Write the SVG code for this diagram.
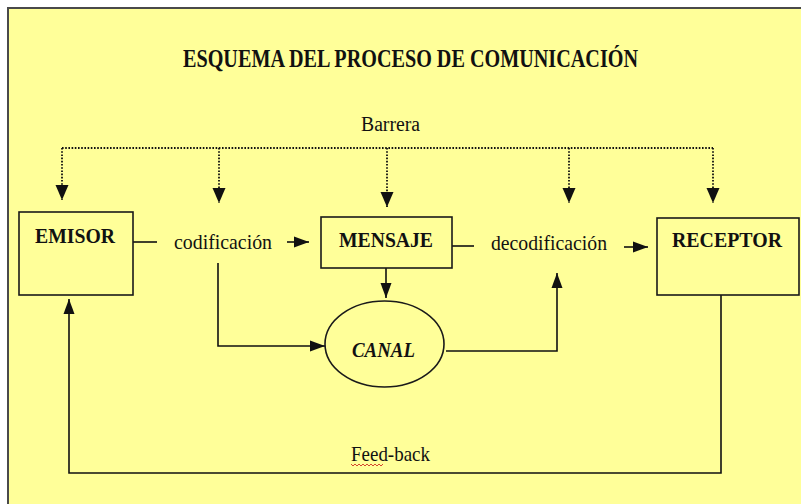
<svg xmlns="http://www.w3.org/2000/svg" width="801" height="504" viewBox="0 0 801 504">
<defs>
<style>
.bg{fill:#FFFF99;stroke:#4a4a4a;stroke-width:2}
.box{fill:none;stroke:#1a1a1a;stroke-width:1.6}
.ln{fill:none;stroke:#111;stroke-width:1.6}
.dot{fill:none;stroke:#111;stroke-width:1.8;stroke-dasharray:1.6 1.6}
.t{font-family:"Liberation Serif","Times New Roman",serif;fill:#111}
.b{font-weight:bold}
</style>
<marker id="ah" markerUnits="userSpaceOnUse" markerWidth="16" markerHeight="16" viewBox="0 0 16 16" refX="15" refY="8" orient="auto">
<path d="M0,1.5 L15,8 L0,14.5 Z" fill="#111"/>
</marker>
<marker id="ahs" markerUnits="userSpaceOnUse" markerWidth="16" markerHeight="14" viewBox="0 0 16 14" refX="15" refY="7" orient="auto">
<path d="M0,1.5 L15,7 L0,12.5 Z" fill="#111"/>
</marker>
</defs>
<rect x="0" y="0" width="801" height="504" fill="#ffffff"/>
<rect class="bg" x="8" y="8" width="800" height="504"/>
<text class="t b" x="183" y="67" font-size="25" textLength="455" lengthAdjust="spacingAndGlyphs">ESQUEMA DEL PROCESO DE COMUNICACIÓN</text>
<text class="t" x="361" y="131" font-size="20" textLength="59" lengthAdjust="spacingAndGlyphs">Barrera</text>

<g id="connectors">
<path class="dot" d="M62,148 H713"/>
<path class="dot" d="M62,148 V200" marker-end="url(#ah)"/>
<path class="dot" d="M219,148 V203" marker-end="url(#ah)"/>
<path class="dot" d="M387,148 V207" marker-end="url(#ah)"/>
<path class="dot" d="M569,148 V203" marker-end="url(#ah)"/>
<path class="dot" d="M713,148 V203" marker-end="url(#ah)"/>
<path class="ln" d="M133,242 H157"/>
<path class="ln" d="M287,242 H309" marker-end="url(#ahs)"/>
<path class="ln" d="M452,246 H474"/>
<path class="ln" d="M624,247 H648" marker-end="url(#ahs)"/>
<path class="ln" d="M386,268 V298" marker-end="url(#ahs)"/>
<path class="ln" d="M218,263 V346 H325" marker-end="url(#ahs)"/>
<path class="ln" d="M446,351 H557 V273" marker-end="url(#ahs)"/>
<path class="ln" d="M721,295 V473 H69 V299" marker-end="url(#ahs)"/>
</g>

<g id="emisor">
<rect class="box" x="19" y="212" width="114" height="83"/>
<text class="t b" x="35" y="243" font-size="22" textLength="80" lengthAdjust="spacingAndGlyphs">EMISOR</text>
</g>
<g id="codificacion">
<text class="t" x="174" y="249" font-size="21" textLength="98" lengthAdjust="spacingAndGlyphs">codificación</text>
</g>
<g id="mensaje">
<rect class="box" x="321" y="217" width="131" height="51"/>
<text class="t b" x="339" y="247" font-size="21" textLength="94" lengthAdjust="spacingAndGlyphs">MENSAJE</text>
</g>
<g id="decodificacion">
<text class="t" x="491" y="250" font-size="21" textLength="116" lengthAdjust="spacingAndGlyphs">decodificación</text>
</g>
<g id="receptor">
<rect class="box" x="657" y="218" width="142" height="77"/>
<text class="t b" x="672" y="247" font-size="21" textLength="110" lengthAdjust="spacingAndGlyphs">RECEPTOR</text>
</g>
<g id="canal">
<ellipse class="box" cx="384.5" cy="344" rx="59.5" ry="43"/>
<text class="t b" x="352" y="357" font-size="22" font-style="italic" textLength="63" lengthAdjust="spacingAndGlyphs">CANAL</text>
</g>
<g id="feedback">
<text class="t" x="351" y="461" font-size="21" textLength="79" lengthAdjust="spacingAndGlyphs">Feed-back</text>
<path d="M351,464 l2,2 l2,-2 l2,2 l2,-2 l2,2 l2,-2 l2,2 l2,-2 l2,2 l2,-2 l2,2 l2,-2 l2,2 l2,-2 l2,2 l2,-2" fill="none" stroke="#d03020" stroke-width="0.9"/>
</g>
</svg>
